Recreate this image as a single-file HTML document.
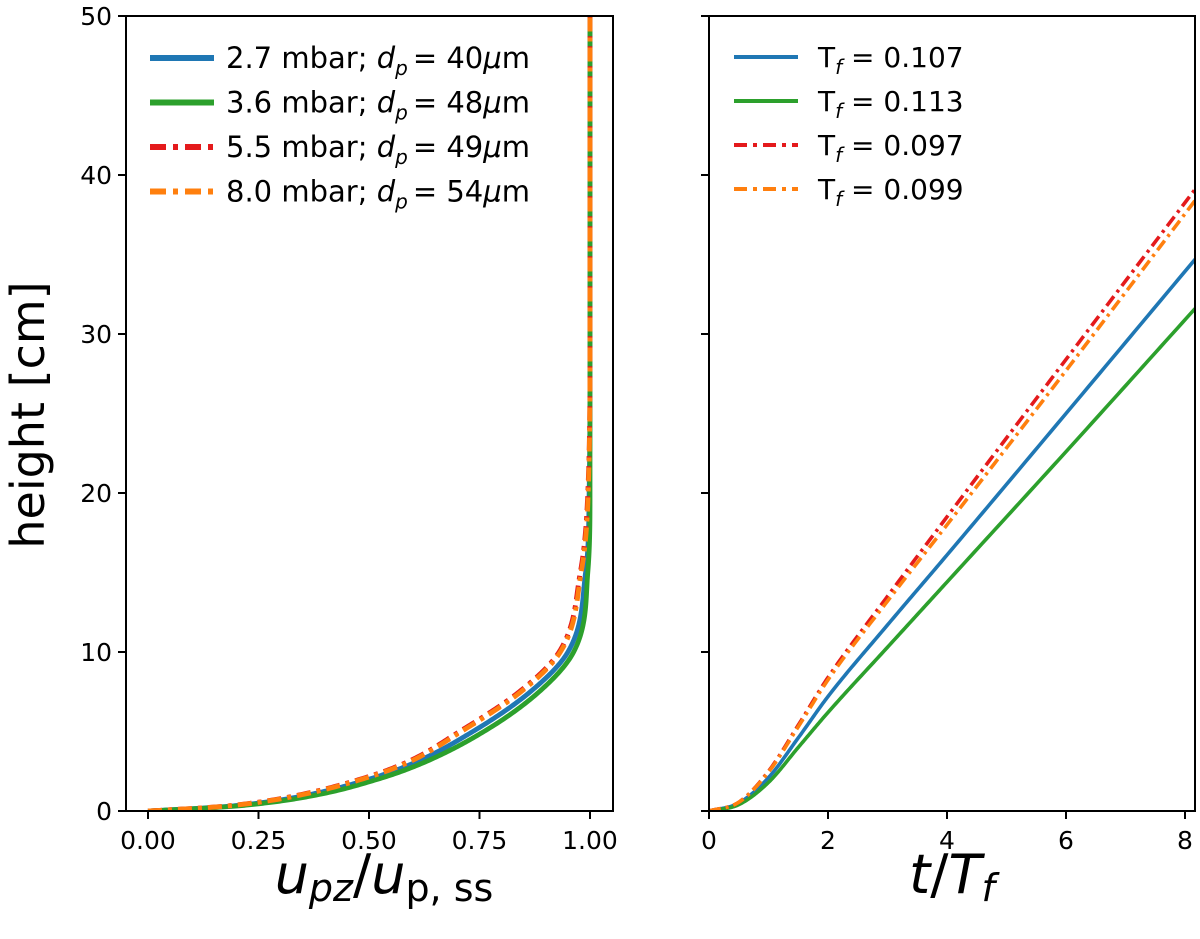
<!DOCTYPE html>
<html><head><meta charset="utf-8"><style>
body{margin:0;background:#fff}
svg text{font-family:"DejaVu Sans","Liberation Sans",sans-serif;fill:#000}
</style></head><body>
<svg id="c" width="1200" height="934" xmlns="http://www.w3.org/2000/svg"></svg>
<script>
const heightsL=[0,0.25,0.5,1,2,3,5,7.5,10,15,20,30,50];
const uBlue=[0,0.16,0.25,0.36,0.5,0.6,0.735,0.865,0.95,0.99,0.998,1,1];
const uGreen=[0,0.17,0.265,0.38,0.52,0.62,0.76,0.885,0.963,0.995,1,1,1];
const uRed=[0,0.15,0.235,0.34,0.48,0.58,0.705,0.84,0.93,0.978,0.995,1,1];
const uOrange=[0,0.152,0.238,0.344,0.484,0.584,0.709,0.844,0.933,0.98,0.996,1,1];
const tR=[0,0.5,1,1.5,2,3,4,6,8.17];
const hBlue=[0,0.5,2.1,4.6,7.2,11.7,16.1,25.0,34.7];
const hGreen=[0,0.4,1.8,4.0,6.2,10.3,14.4,22.6,31.6];
const hRed=[0,0.55,2.5,5.4,8.4,13.5,18.5,28.4,39.1];
const hOrange=[0,0.55,2.45,5.3,8.25,13.2,18.0,27.7,38.4];
const xTicksL=["0.00","0.25","0.50","0.75","1.00"];
const yTicks=[0,10,20,30,40,50];
const xTicksR=[0,2,4,6,8];
const legL=["2.7 mbar; ","3.6 mbar; ","5.5 mbar; ","8.0 mbar; "];
const legLd=["40","48","49","54"];
const legR=["0.107","0.113","0.097","0.099"];
const NS="http://www.w3.org/2000/svg",svg=document.getElementById('c');
function el(t,a,p){const e=document.createElementNS(NS,t);for(const k in a)e.setAttribute(k,a[k]);(p||svg).appendChild(e);return e;}
const C={b:"#1f77b4",g:"#2ca02c",r:"#e41a1c",o:"#ff7f0e"};
const yB=811,yT=16;
const Y=h=>yB-(h/50)*(yB-yT);
const XL=u=>148+u*442;
const XR=t=>709+t*59.5;
function mono(xs,ys,n){
 const k=xs.length,d=[],m=new Array(k);
 for(let i=0;i<k-1;i++)d.push((ys[i+1]-ys[i])/(xs[i+1]-xs[i]));
 m[0]=d[0];m[k-1]=d[k-2];
 for(let i=1;i<k-1;i++){m[i]=(d[i-1]*d[i]<=0)?0:(d[i-1]+d[i])/2;}
 for(let i=0;i<k-1;i++){if(d[i]===0){m[i]=0;m[i+1]=0;continue;}const a=m[i]/d[i],b=m[i+1]/d[i],s=a*a+b*b;if(s>9){const t=3/Math.sqrt(s);m[i]=t*a*d[i];m[i+1]=t*b*d[i];}}
 const out=[];
 for(let i=0;i<k-1;i++){const h=xs[i+1]-xs[i];for(let j=0;j<n;j++){const t=j/n,t2=t*t,t3=t2*t;
  out.push([xs[i]+t*h,(2*t3-3*t2+1)*ys[i]+(t3-2*t2+t)*h*m[i]+(-2*t3+3*t2)*ys[i+1]+(t3-t2)*h*m[i+1]]);}}
 out.push([xs[k-1],ys[k-1]]);return out;}
function pl(pts){return "M"+pts.map(p=>p[0].toFixed(2)+","+p[1].toFixed(2)).join(" L");}
const clipL=el('clipPath',{id:'cl'});el('rect',{x:126,y:yT,width:487,height:yB-yT},clipL);
const clipR=el('clipPath',{id:'cr'});el('rect',{x:709,y:yT,width:486,height:yB-yT},clipR);
[[uBlue,C.b,null],[uGreen,C.g,null],[uRed,C.r,"14 6 4 6"],[uOrange,C.o,"14 6 4 6"]].forEach((s,i)=>{
 const pts=mono(heightsL,s[0],30).map(p=>[XL(p[1]),Y(p[0])]);
 const p=el('path',{d:pl(pts),fill:"none",stroke:s[1],"stroke-width":4.8,"clip-path":"url(#cl)"});
 if(s[2])p.setAttribute('stroke-dasharray',s[2]);
 
 
});
[[hBlue,C.b,null],[hGreen,C.g,null],[hRed,C.r,"12 5 3 5"],[hOrange,C.o,"12 5 3 5"]].forEach((s,i)=>{
 const pts=mono(tR,s[0],30).map(p=>[XR(p[0]),Y(p[1])]);
 const p=el('path',{d:pl(pts),fill:"none",stroke:s[1],"stroke-width":3.6,"clip-path":"url(#cr)"});
 if(s[2])p.setAttribute('stroke-dasharray',s[2]);
 
 
});
const f1=el('rect',{x:126,y:yT,width:487,height:yB-yT,fill:"none",stroke:"#000","stroke-width":2});

const f2=el('rect',{x:709,y:yT,width:486,height:yB-yT,fill:"none",stroke:"#000","stroke-width":2});

yTicks.forEach(v=>{
 el('line',{x1:118,x2:126,y1:Y(v),y2:Y(v),stroke:"#000","stroke-width":2});
 el('line',{x1:701,x2:709,y1:Y(v),y2:Y(v),stroke:"#000","stroke-width":2});
 const t=el('text',{x:112,y:Y(v)+9,"text-anchor":"end","font-size":25});t.textContent=v;
 
});
xTicksL.forEach((v,i)=>{const x=XL(i*0.25);
 el('line',{x1:x,x2:x,y1:yB,y2:yB+8,stroke:"#000","stroke-width":2});
 const t=el('text',{x:x,y:yB+38,"text-anchor":"middle","font-size":25});t.textContent=v;
 });
xTicksR.forEach(v=>{const x=XR(v);
 el('line',{x1:x,x2:x,y1:yB,y2:yB+8,stroke:"#000","stroke-width":2});
 const t=el('text',{x:x,y:yB+38,"text-anchor":"middle","font-size":25});t.textContent=v;
 });
const yl=el('text',{x:0,y:0,transform:"translate(44,415) rotate(-90)","text-anchor":"middle","font-size":46});yl.textContent="height [cm]";

const xl=el('text',{x:384,y:893,"text-anchor":"middle","font-size":54});
xl.innerHTML='<tspan font-style="italic">u</tspan><tspan font-style="italic" font-size="38" dy="8">pz</tspan><tspan dy="-8">/</tspan><tspan font-style="italic">u</tspan><tspan font-size="38" dy="8">p, ss</tspan>';

const xr=el('text',{x:952,y:893,"text-anchor":"middle","font-size":54});
xr.innerHTML='<tspan font-style="italic">t</tspan>/<tspan font-style="italic">T</tspan><tspan font-style="italic" font-size="38" dy="8">f</tspan>';

const cols=[C.b,C.g,C.r,C.o];
legL.forEach((s,i)=>{const y=58+i*44.5;
 const l=el('line',{x1:150,x2:214,y1:y,y2:y,stroke:cols[i],"stroke-width":6});
 if(i>1)l.setAttribute('stroke-dasharray','16 7 5 7');
 
 const t=el('text',{x:226,y:y+10,"font-size":29});
 t.innerHTML=s+'<tspan font-style="italic">d</tspan><tspan font-style="italic" font-size="20" dy="7">p</tspan><tspan dy="-7" dx="5">= '+legLd[i]+'</tspan><tspan font-style="italic">μ</tspan>m';
 
});
legR.forEach((s,i)=>{const y=57+i*44;
 const l=el('line',{x1:734,x2:798,y1:y,y2:y,stroke:cols[i],"stroke-width":4});
 if(i>1)l.setAttribute('stroke-dasharray','13 6 4 6');
 
 const t=el('text',{x:818,y:y+10,"font-size":28});
 t.innerHTML='T<tspan font-style="italic" font-size="20" dy="7">f</tspan><tspan dy="-7"> = '+s+'</tspan>';
 
});
</script>
</body></html>
